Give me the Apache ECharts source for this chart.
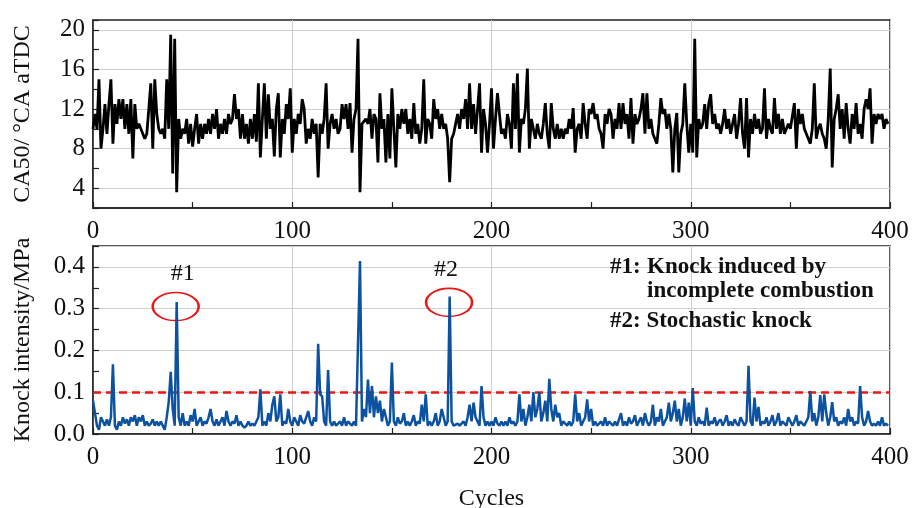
<!DOCTYPE html>
<html>
<head>
<meta charset="utf-8">
<script src="https://cdn.jsdelivr.net/npm/echarts@6/dist/echarts.min.js"></script>
<style>html,body{margin:0;padding:0;background:#fff}#c{width:912px;height:508px}</style>
</head>
<body>
<div id="c"></div>
<script>
// ---- data ----
const ca50 = [
10,11.5,10,15,8,10,12.5,9.5,12.5,15,8.5,12.5,10.5,13,11,13,10,12.5,9.5,13,
7,12.5,10,10.5,10,9.5,9,9.5,12,14.6,8,15,11.5,10,9.5,10,9,15,10,19.5,
5.5,19.1,3.6,11,9,10,9.5,11,8.5,10.5,8.2,10,11.5,8.5,10.5,9,10.5,9.5,11,9.5,
11.5,10,12,9,10.5,9.5,11,9.5,11.5,10.5,11,13.5,11,12,9,11.5,9,10.5,8.5,11,
9,11.5,8.7,14.6,7.1,11,14.6,9,13.5,10,11,7.2,12,13.6,7.1,11,9.5,12.5,11,14.1,
7.6,11,9.5,11.5,10.5,13,12,8.5,10,9,11,9.5,10.5,5.1,10.5,9.5,11,14.6,8,10.5,
11.5,10,11,9.5,10,12.5,11,12.5,10,12.6,7.6,11,12,19.1,3.6,10.5,10.5,11,10.5,12,
9,11.5,11,6.6,13.6,10,11,6.6,11.5,7,14.1,10,6.1,11.5,10,12,10.5,12,9.5,11,
9,12.6,9.5,10.5,8.5,10,15,8.5,11,10.5,9,13,11,12,10,11.5,10,10.5,9,4.6,
9,9.5,10.5,11.5,10,12,11,13,10,14.6,10,12.5,9.5,12,14.6,7.6,12,10.5,7.6,10.5,
14.1,8,11,13.6,11.5,9.5,10,9,11.5,10.5,8,14.6,10,15.6,7.6,11,10.5,12,16.1,8,
11,10,9,10.5,9.5,9,10.5,12.6,9.5,8,12.6,10,9,10.5,9,10,9,10,9.5,11,
10,12.1,7.6,10,10.5,9,12.6,10.5,9,12,11.5,12.6,11,11.5,10,9.5,8,11.5,10.5,12,
11.5,9,11,10,12.6,10,12.6,10.5,11.5,9,13.1,8.5,11.5,10.5,11,12,13.6,9.5,13.6,10,
11,9.5,9,8.5,10.5,13.1,11.5,12,10,11.5,10,5.6,10,11.6,5.6,9.5,10.5,14.6,10.5,7.6,
10.5,7.6,19.1,7.1,11,10,10.5,12.5,10,12.5,13.5,10.5,11.5,10,10.5,9.5,10.5,12,10,11,
9.5,10.5,11.5,9,10.5,13.1,9.5,8,13.1,7.1,11,9.5,11.5,10,11,9.5,10,14.1,9,11,
10,9.5,13.1,10,11.5,9.5,11,9.5,10,10.5,10,10,12.6,8,12,10.5,11.5,10,9.5,9,
8.5,10,14.6,9,10,10.5,9.5,9,8,11,16.1,6.1,11,12,13.5,10,12,9,12.6,10,
8.5,11.5,10,12.6,9.5,10.5,9,12,13,12,14.1,8.5,11.5,10.5,11.5,11,11.5,10,11,10.5
];
const knock = [
0.08,0.05,0.02,0.01,0.04,0.03,0.02,0.035,0.02,0.04,0.167,0.02,0.01,0.03,0.02,0.04,0.025,0.035,0.02,0.04,
0.03,0.045,0.02,0.04,0.03,0.045,0.02,0.03,0.02,0.025,0.035,0.02,0.03,0.02,0.03,0.02,0.01,0.04,0.076,0.149,
0.06,0.02,0.316,0.04,0.02,0.05,0.02,0.03,0.02,0.045,0.03,0.06,0.02,0.03,0.04,0.02,0.03,0.025,0.04,0.06,
0.03,0.02,0.035,0.02,0.03,0.04,0.02,0.055,0.03,0.02,0.03,0.025,0.045,0.02,0.03,0.02,0.015,0.02,0.03,0.02,
0.025,0.02,0.03,0.04,0.107,0.02,0.03,0.02,0.05,0.03,0.07,0.09,0.03,0.04,0.095,0.02,0.03,0.025,0.06,0.03,
0.02,0.04,0.03,0.02,0.045,0.03,0.025,0.04,0.055,0.03,0.02,0.04,0.03,0.216,0.095,0.09,0.03,0.02,0.153,0.03,
0.02,0.03,0.02,0.025,0.03,0.02,0.04,0.02,0.03,0.025,0.02,0.03,0.02,0.02,0.414,0.03,0.06,0.04,0.13,0.05,
0.115,0.04,0.09,0.05,0.08,0.03,0.06,0.04,0.02,0.03,0.171,0.03,0.02,0.04,0.025,0.03,0.05,0.02,0.03,0.02,
0.03,0.045,0.02,0.03,0.025,0.07,0.03,0.095,0.02,0.03,0.02,0.03,0.05,0.02,0.03,0.06,0.04,0.02,0.03,0.329,
0.03,0.02,0.02,0.025,0.02,0.02,0.03,0.02,0.04,0.07,0.03,0.075,0.04,0.03,0.02,0.115,0.04,0.02,0.03,0.02,
0.03,0.02,0.04,0.025,0.02,0.03,0.02,0.03,0.02,0.04,0.025,0.03,0.02,0.03,0.095,0.03,0.06,0.02,0.04,0.07,
0.03,0.1,0.04,0.06,0.1,0.03,0.05,0.08,0.03,0.132,0.06,0.03,0.07,0.04,0.05,0.02,0.03,0.025,0.02,0.03,
0.02,0.03,0.095,0.03,0.05,0.02,0.03,0.04,0.083,0.03,0.06,0.02,0.03,0.02,0.025,0.03,0.02,0.04,0.02,0.03,
0.025,0.02,0.03,0.02,0.035,0.05,0.02,0.03,0.02,0.04,0.025,0.03,0.045,0.02,0.03,0.04,0.02,0.05,0.03,0.02,
0.03,0.07,0.02,0.04,0.03,0.06,0.02,0.03,0.04,0.075,0.03,0.05,0.08,0.03,0.06,0.02,0.04,0.085,0.03,0.075,
0.02,0.11,0.03,0.02,0.04,0.025,0.03,0.02,0.063,0.02,0.03,0.025,0.04,0.02,0.03,0.035,0.02,0.03,0.045,0.02,
0.03,0.02,0.035,0.025,0.02,0.04,0.03,0.02,0.03,0.163,0.03,0.02,0.087,0.03,0.065,0.02,0.03,0.025,0.04,0.02,
0.03,0.045,0.02,0.03,0.05,0.02,0.03,0.025,0.02,0.04,0.03,0.02,0.03,0.045,0.02,0.03,0.025,0.02,0.03,0.04,
0.103,0.03,0.05,0.02,0.04,0.093,0.03,0.095,0.05,0.02,0.04,0.076,0.03,0.04,0.02,0.03,0.025,0.04,0.02,0.06,
0.03,0.04,0.02,0.03,0.025,0.115,0.04,0.02,0.03,0.055,0.03,0.02,0.025,0.02,0.03,0.02,0.04,0.02,0.025,0.02
];
const cycles = ca50.map((_, i) => i);
const knockThreshold = 0.1;
const annotations = [
  { name: '#1', coord: [41.5, 0.305], labelOffset: [7, 0] },
  { name: '#2', coord: [178.7, 0.315], labelOffset: [-3, 0] }
];
const noteLines = ['#1:', 'Knock induced by', 'incomplete combustion', '#2: Stochastic knock'];

// ---- chart ----
const FONT = '"Liberation Serif", "Times New Roman", serif';
const chart = echarts.init(document.getElementById('c'), null, { renderer: 'canvas' });
const axisLineStyle = { color: '#222', width: 1.5 };
const gridGray = '#cfcfcf';
const tickStyle = { color: '#222', width: 1.2 };

function xAxisBase(gridIndex, showName) {
  return {
    type: 'value', gridIndex, min: 0, max: 400, interval: 100,
    axisLine: { show: true, lineStyle: axisLineStyle },
    axisTick: { show: true, inside: true, length: 6, lineStyle: tickStyle },
    minorTick: { show: true, splitNumber: 2, length: 6, lineStyle: tickStyle },
    axisLabel: { fontFamily: FONT, fontSize: 25, color: '#111', margin: 11 },
    splitLine: { show: true, lineStyle: { color: gridGray, width: 1 } },
    name: showName ? 'Cycles' : '', nameLocation: 'middle', nameGap: 53,
    nameTextStyle: { fontFamily: FONT, fontSize: 24, color: '#111' }
  };
}

const gridCommon = { show: true, borderColor: '#222', borderWidth: 1.5, backgroundColor: 'transparent',
  containLabel: false, outerBoundsMode: 'none' };

const option = {
  animation: false,
  backgroundColor: '#fff',
  grid: [
    Object.assign({ left: 93, top: 20, width: 797, height: 188 }, gridCommon),
    Object.assign({ left: 93, top: 246, width: 797, height: 188 }, gridCommon)
  ],
  xAxis: [xAxisBase(0, false), xAxisBase(1, true)],
  yAxis: [
    {
      type: 'value', gridIndex: 0, min: 2, max: 21, interval: 2,
      axisLine: { show: true, lineStyle: axisLineStyle },
      axisTick: { show: true, inside: true, length: 6, lineStyle: tickStyle },
      axisLabel: { fontFamily: FONT, fontSize: 25, color: '#111', margin: 8,
        formatter: v => (v % 4 === 0 ? String(v) : '') },
      splitLine: { show: true, lineStyle: { color: ['transparent', gridGray], width: 1 } },
      name: 'CA50/ °CA aTDC', nameLocation: 'middle', nameGap: 58, nameRotate: 90,
      nameTextStyle: { fontFamily: FONT, fontSize: 24, color: '#111' }
    },
    {
      type: 'value', gridIndex: 1, min: 0, max: 0.45, interval: 0.1,
      axisLine: { show: true, lineStyle: axisLineStyle },
      axisTick: { show: true, inside: true, length: 6, lineStyle: tickStyle },
      minorTick: { show: true, splitNumber: 2, length: 6, lineStyle: tickStyle },
      axisLabel: { fontFamily: FONT, fontSize: 25, color: '#111', margin: 8,
        formatter: v => (v > 0.42 ? '' : v.toFixed(1)) },
      splitLine: { show: true, lineStyle: { color: gridGray, width: 1 } },
      name: 'Knock intensity/MPa', nameLocation: 'middle', nameGap: 58, nameRotate: 90,
      nameTextStyle: { fontFamily: FONT, fontSize: 24, color: '#111' }
    }
  ],
  series: [
    {
      type: 'line', xAxisIndex: 0, yAxisIndex: 0, showSymbol: false, symbol: 'none',
      data: cycles.map((c, i) => [c, ca50[i]]),
      lineStyle: { color: '#000', width: 2.8 }, z: 5
    },
    {
      type: 'line', xAxisIndex: 1, yAxisIndex: 1, showSymbol: false, symbol: 'none',
      data: cycles.map((c, i) => [c, knock[i]]),
      lineStyle: { color: '#0c52a0', width: 2.5 }, z: 5,
      markLine: {
        silent: true, symbol: 'none', label: { show: false },
        lineStyle: { color: '#f01515', type: [8, 5], width: 2.5 },
        data: [{ yAxis: knockThreshold }]
      },
      markPoint: {
        silent: true, symbol: 'circle', symbolSize: [46, 28],
        itemStyle: { color: 'rgba(0,0,0,0)', borderColor: '#e81818', borderWidth: 2 },
        label: { show: true, position: 'top', distance: 6, color: '#111', fontFamily: FONT, fontSize: 24,
          formatter: p => p.name },
        data: annotations.map(a => ({ name: a.name, coord: a.coord, label: { offset: a.labelOffset } }))
      }
    }
  ],
  graphic: [
    { type: 'text', z: 100, left: 610, top: 256, style: { text: noteLines[0], font: 'bold 23px ' + FONT, fill: '#111' } },
    { type: 'text', z: 100, left: 647, top: 256, style: { text: noteLines[1], font: 'bold 23px ' + FONT, fill: '#111' } },
    { type: 'text', z: 100, left: 647, top: 280, style: { text: noteLines[2], font: 'bold 23px ' + FONT, fill: '#111' } },
    { type: 'text', z: 100, left: 610, top: 310, style: { text: noteLines[3], font: 'bold 23px ' + FONT, fill: '#111' } }
  ]
};
chart.setOption(option);
</script>
</body>
</html>
